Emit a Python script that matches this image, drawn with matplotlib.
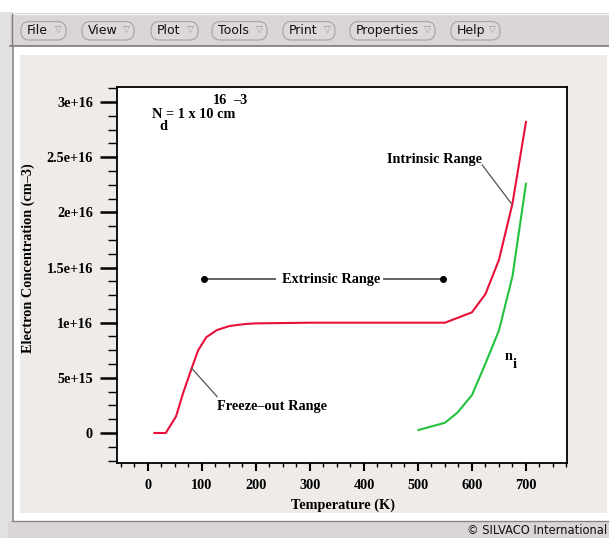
import matplotlib
matplotlib.use("Agg")
import matplotlib.pyplot as plt
from matplotlib.patches import Rectangle, FancyBboxPatch
from matplotlib.ticker import FixedLocator, MultipleLocator

# ---------------- data ----------------
temp_n = [12, 33, 52, 65, 81, 93, 108, 128, 151, 180, 200, 300, 400, 500, 550, 600, 625, 650, 675, 700]
conc_n = [0.0, 0.0, 0.15e16, 0.36e16, 0.587e16, 0.75e16, 0.868e16, 0.934e16, 0.97e16, 0.988e16,
          0.994e16, 1.0e16, 1.0e16, 1.0e16, 1.0e16, 1.094e16, 1.26e16, 1.57e16, 2.08e16, 2.82e16]
temp_ni = [501, 550, 573, 600, 625, 650, 675, 700]
conc_ni = [0.027e16, 0.093e16, 0.184e16, 0.344e16, 0.63e16, 0.93e16, 1.42e16, 2.26e16]

y_ticks = [0, 5e15, 1e16, 1.5e16, 2e16, 2.5e16, 3e16]
y_tick_labels = ["0", "5e+15", "1e+16", "1.5e+16", "2e+16", "2.5e+16", "3e+16"]
x_ticks = [0, 100, 200, 300, 400, 500, 600, 700]
x_tick_labels = ["0", "100", "200", "300", "400", "500", "600", "700"]
menu_items = ["File", "View", "Plot", "Tools", "Print", "Properties", "Help"]

W, H = 609, 538
fig = plt.figure(figsize=(W / 100, H / 100), dpi=100)
fig.patch.set_facecolor("white")

# ---------------- window chrome (pixel coordinates) ----------------
bg = fig.add_axes([0, 0, 1, 1], zorder=0)
bg.set_xlim(0, W)
bg.set_ylim(H, 0)
bg.axis("off")

bar_col = "#d9d5d9"
bg.add_patch(Rectangle((0, 12), 12.5, H, facecolor="#e4e1e4", edgecolor="none"))
bg.add_patch(Rectangle((10, 13), W, 33, facecolor=bar_col, edgecolor="none"))
bg.plot([10, W], [14, 14], color="#f2f0f2", lw=1)
bg.plot([12, 12], [14, 46], color="#7d797d", lw=1)
bg.plot([10, W], [45.5, 45.5], color="#7d797d", lw=1.2)
bg.add_patch(Rectangle((13, 46), W, 475, facecolor="white", edgecolor="none"))
bg.plot([12.5, 12.5], [46, 521], color="#8a868a", lw=1.2)
bg.add_patch(Rectangle((20, 55), 587, 458, facecolor="#efebe8", edgecolor="none"))
bg.add_patch(Rectangle((8, 521), W, 20, facecolor=bar_col, edgecolor="none"))
bg.plot([12, W], [521, 521], color="#8a868a", lw=1)
bg.text(607, 530, "© SILVACO International", ha="right", va="center",
        fontsize=8.3, family="DejaVu Sans", color="#101010")

pills = [(17, 70), (78, 138), (147, 202), (208, 271), (279, 339), (346, 439), (447, 504)]
for name, (x0, x1) in zip(menu_items, pills):
    bg.add_patch(FancyBboxPatch((x0 + 4, 21.5), x1 - x0 - 8, 18.5,
                                boxstyle="round,pad=0,rounding_size=8.5",
                                facecolor="#dcd8dc", edgecolor="#aaa6aa", lw=0.9,
                                mutation_aspect=1))
    bg.text(x0 + 10, 30.5, name, ha="left", va="center", fontsize=9,
            family="DejaVu Sans", color="#111111")
    bg.text(x1 - 8, 30.5, "▽", ha="right", va="center", fontsize=6.5,
            family="DejaVu Sans", color="#9a969a")

# ---------------- main plot ----------------
L, R, T, B = 117, 567, 87, 463
ax = fig.add_axes([L / W, 1 - B / H, (R - L) / W, (B - T) / H], zorder=1)
ax.set_facecolor("white")
ax.set_xlim(-57.3, 776)
ax.set_ylim(-2.72e15, 3.137e16)

ax.plot(temp_n, conc_n, color="#e8103a", lw=1.5, solid_joinstyle="round")
ax.plot(temp_ni, conc_ni, color="#22c23e", lw=1.5, solid_joinstyle="round")

for s in ax.spines.values():
    s.set_linewidth(1.3)
    s.set_color("black")

font = dict(family="Liberation Serif", fontweight="bold", fontsize=10.3)

ax.yaxis.set_major_locator(FixedLocator(y_ticks))
ax.set_yticklabels(y_tick_labels, **font)
ax.yaxis.set_minor_locator(MultipleLocator(1.25e15))
ax.xaxis.set_major_locator(FixedLocator(x_ticks))
ax.set_xticklabels(x_tick_labels, **font)
ax.xaxis.set_minor_locator(MultipleLocator(25))

ax.tick_params(axis="y", which="major", direction="out", length=12.3, width=1.8, pad=5)
ax.tick_params(axis="y", which="minor", direction="out", length=6.5, width=1.0)
ax.tick_params(axis="x", which="major", direction="out", length=5.5, width=1.5, pad=6)
ax.tick_params(axis="x", which="minor", direction="out", length=3, width=1.0)

fig.text(343 / W, 1 - 505 / H, "Temperature (K)", ha="center", va="center", **font)
fig.text(28 / W, 1 - 258 / H, "Electron Concentration (cm–3)", ha="center", va="center",
         rotation=90, **font)

# ---------------- annotations ----------------
gray = "#555555"
# Extrinsic range
ax.plot([103, 236], [1.396e16, 1.396e16], color=gray, lw=1.3)
ax.plot([438, 546], [1.396e16, 1.396e16], color=gray, lw=1.3)
ax.plot([103, 546], [1.396e16, 1.396e16], ls="none", marker="o", ms=4, color="black")
ax.text(339, 1.396e16, "Extrinsic Range", ha="center", va="center", **font)

# Intrinsic range
ax.plot([619, 673], [2.43e16, 2.08e16], color=gray, lw=0.9)
ax.text(618, 2.48e16, "Intrinsic Range", ha="right", va="center", **font)

# Freeze-out range
ax.plot([81, 128], [0.587e16, 0.33e16], color=gray, lw=0.9)
ax.text(127, 0.24e16, "Freeze–out Range", ha="left", va="center", **font)

# n_i label
ax.text(660, 0.69e16, "n", ha="left", va="center", **font)
ax.text(676, 0.62e16, "i", ha="left", va="center", **font)

# Nd label
fig.text(152 / W, 1 - 114 / H, "N", ha="left", va="center", **font)
fig.text(159.5 / W, 1 - 127 / H, "d", ha="left", va="center", **font)
fig.text(166.5 / W, 1 - 115 / H, "= 1 x 10 cm", ha="left", va="center", **font)
fig.text(213 / W, 1 - 101 / H, "16", ha="left", va="center", **font)
fig.text(233 / W, 1 - 101 / H, "–3", ha="left", va="center", **font)

fig.savefig("out.png", dpi=100)
